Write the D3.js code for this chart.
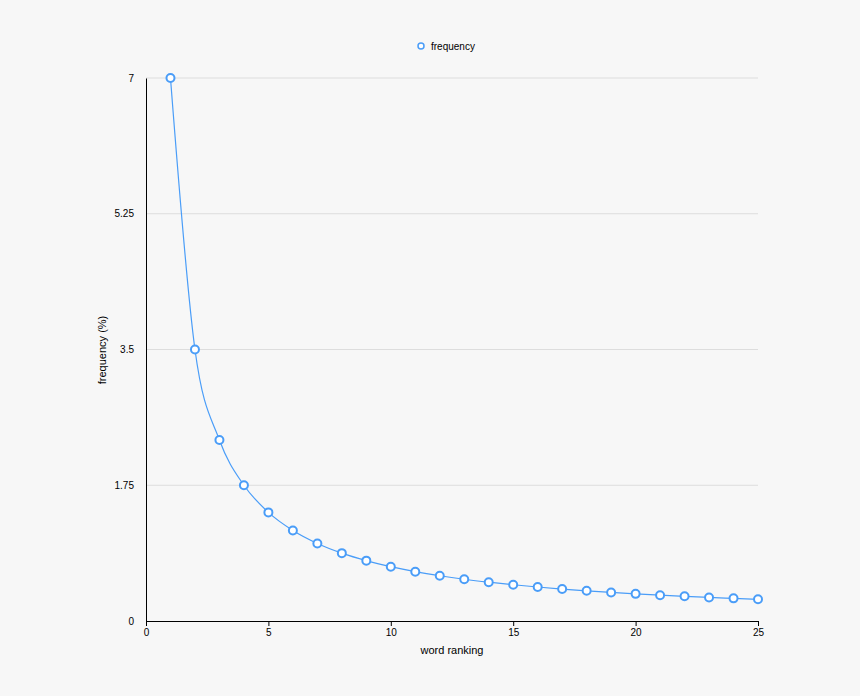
<!DOCTYPE html>
<html><head><meta charset="utf-8">
<script src="https://cdn.jsdelivr.net/npm/d3@7"></script>
<style>body{margin:0;background:#f7f7f7;font-family:"Liberation Sans",Arial,sans-serif}</style>
</head><body><svg id="c" width="860" height="696"></svg>
<script>
const ranks=[1,2,3,4,5,6,7,8,9,10,11,12,13,14,15,16,17,18,19,20,21,22,23,24,25];
const frequency=[7,3.5,2.333,1.75,1.4,1.167,1.0,0.875,0.778,0.7,0.636,0.583,0.538,0.5,0.467,0.438,0.412,0.389,0.368,0.35,0.333,0.318,0.304,0.292,0.28];
const xTicks=[0,5,10,15,20,25];
const yTicks=[0,1.75,3.5,5.25,7];
const svg=d3.select("#c");
svg.append("rect").attr("width",860).attr("height",696).attr("fill","#f7f7f7");
const x=d3.scaleLinear().domain([0,25]).range([146,758]);
const y=d3.scaleLinear().domain([0,7]).range([621,78]);
svg.append("g").selectAll("line").data(yTicks.slice(1)).join("line")
 .attr("x1",146).attr("x2",758).attr("y1",d=>y(d)).attr("y2",d=>y(d)).attr("stroke","#dddddd");
const gx=svg.append("g").attr("transform","translate(0,621)").call(d3.axisBottom(x).tickValues(xTicks).tickSize(5).tickFormat(d3.format("d")));
const gy=svg.append("g").attr("transform","translate(146,0)").call(d3.axisLeft(y).tickValues(yTicks).tickSize(0).tickPadding(12).tickFormat(d=>String(d)));
[gx,gy].forEach(g=>{g.selectAll("text").attr("font-size",10).attr("fill","#000").attr("font-family","Liberation Sans, Arial");g.select(".domain").attr("stroke","#000");g.selectAll(".tick line").attr("stroke","#000");});
gx.selectAll(".tick line").attr("y2",5);
const data=ranks.map((r,i)=>[r,frequency[i]]);
svg.append("path").datum(data).attr("fill","none").attr("stroke","#4a9df8").attr("stroke-width",1.2)
 .attr("d",d3.line().x(d=>x(d[0])).y(d=>y(d[1])).curve(d3.curveMonotoneX));
svg.append("g").selectAll("circle").data(data).join("circle")
 .attr("cx",d=>x(d[0])).attr("cy",d=>y(d[1])).attr("r",4).attr("fill","#fff").attr("stroke","#4a9df8").attr("stroke-width",2);
svg.append("text").attr("x",452).attr("y",654).attr("text-anchor","middle").attr("font-size",11).text("word ranking");
svg.append("text").attr("transform","translate(106,350) rotate(-90)").attr("text-anchor","middle").attr("font-size",11).text("frequency (%)");
svg.append("circle").attr("cx",421).attr("cy",46).attr("r",3).attr("fill","#fff").attr("stroke","#4a9df8").attr("stroke-width",1.5);
svg.append("text").attr("x",431).attr("y",50).attr("font-size",10).text("frequency");
</script></body></html>
